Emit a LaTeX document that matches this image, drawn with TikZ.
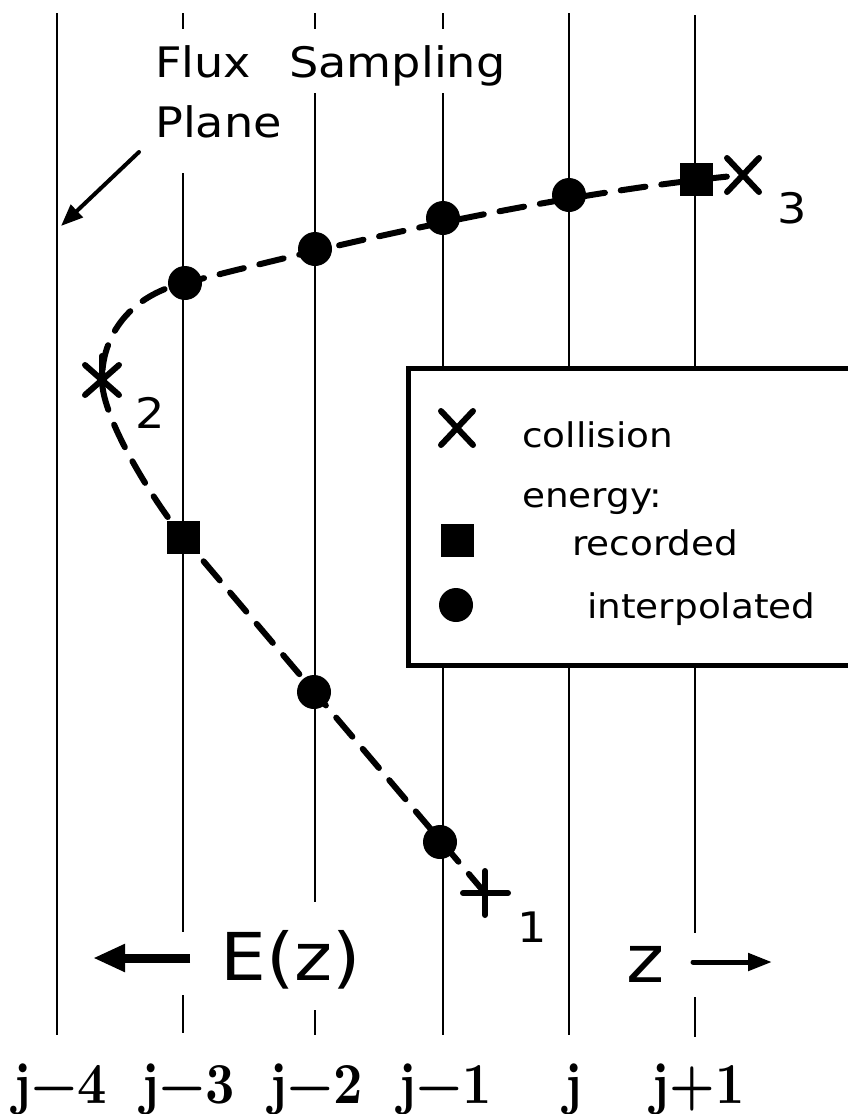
\documentclass[tikz,border=0pt]{standalone}
\usepackage{fontspec}
\newfontfamily\plotfont[FakeStretch=1.1]{DejaVu Sans}
\newfontfamily\labfont[FakeStretch=0.88, Extension=.otf, UprightFont=*-regular, BoldFont=*-bold]{lmroman10}
\usetikzlibrary{arrows.meta}
\begin{document}
\begin{tikzpicture}[x=1pt,y=-1pt,
  plane/.style={line width=1.8pt},
  traj/.style={line width=6pt, dash pattern=on 25pt off 16pt, line cap=round},
  dot/.style={circle, fill=black, inner sep=0pt, minimum size=34pt},
  sq/.style={rectangle, fill=black, inner sep=0pt, minimum size=33pt},
  cross/.style={line width=6pt, line cap=round},
  legtxt/.style={font=\plotfont\fontsize{34}{40}\selectfont, inner sep=0pt, anchor=base west},
  bigtxt/.style={font=\plotfont\fontsize{42}{50}\selectfont, inner sep=0pt},
  numtxt/.style={font=\plotfont\fontsize{42}{50}\selectfont, inner sep=0pt, anchor=center},
  hugetxt/.style={font=\plotfont\fontsize{66}{72}\selectfont, inner sep=0pt, anchor=base west},
  lab/.style={font=\labfont\bfseries\fontsize{58}{64}\selectfont, inner sep=0pt, anchor=base},
]
\useasboundingbox (0,0) rectangle (848,1114);

% flux sampling planes
\draw[plane] (57,13) -- (57,1035);
\draw[plane] (183,13) -- (183,29) (183,173) -- (183,932) (183,995) -- (183,1033);
\draw[plane] (315,13) -- (315,29) (315,93) -- (315,902) (315,1010) -- (315,1035);
\draw[plane] (443,13) -- (443,29) (443,93) -- (443,1035);
\draw[plane] (569,13) -- (569,1035);
\draw[plane] (695,15) -- (695,933) (695,997) -- (695,1037);

% title
\node[bigtxt, anchor=base west] (title1) at (155,77) {Flux\hspace{38pt}Sampling};
\node[bigtxt, anchor=base west] (title2) at (155,137) {Plane};
\coordinate (pa) at (139,152);
\coordinate (pb) at (61,226);
\draw[line width=4pt, line cap=round, -{Triangle[length=22pt,width=17pt]}] (pa) -- (pb);

% legend
\draw[line width=5pt, fill=white] (848,368) -- (408,368) -- (408,665) -- (848,665);
\coordinate (lx) at (457,428);
\draw[cross] (lx) ++(-16,-17) -- ++(32,34) (lx) ++(16,-17) -- ++(-32,34);
\node[legtxt] (lcol) at (522,447) {collision};
\node[legtxt] (lene) at (522,507) {energy:};
\node[sq] (lsq) at (457,540) {};
\node[legtxt] (lrec) at (572,555) {recorded};
\node[dot] (ldot) at (456,605) {};
\node[legtxt] (lint) at (587,618) {interpolated};

% trajectory points
\coordinate (c1) at (485,893);
\node[dot] (e1) at (440,842) {};
\node[dot] (e2) at (314,692) {};
\node[sq] (r1) at (183,537) {};
\coordinate (c2) at (102,380);
\node[dot] (e3) at (185,283) {};
\node[dot] (e4) at (315,249) {};
\node[dot] (e5) at (443,218) {};
\node[dot] (e6) at (569,195) {};
\node[sq] (r2) at (696,179) {};
\coordinate (c3) at (743,175);

% trajectory
\draw[traj] (c1) -- (r1.center)
  .. controls (157,506) and (102,420) .. (c2)
  .. controls (102,328) and (138,293) .. (e3.center)
  .. controls (360,238) and (565,192) .. (c3);

% collision markers
\draw[cross] (c1) ++(-22,0) -- ++(45,0) (c1) ++(0,-22) -- ++(0,44);
\draw[cross] (c2) ++(-17,-15) -- ++(34,30) (c2) ++(17,-15) -- ++(-34,30) (c2) -- ++(0,-24);
\draw[cross] (c3) ++(-16,-17) -- ++(32,34) (c3) ++(16,-17) -- ++(-32,34);

\node[numtxt] (n1) at (532,927) {1};
\node[numtxt] (n2) at (150,413) {2};
\node[numtxt] (n3) at (792,208) {3};

% E(z) and z arrows
\node[hugetxt] (ez) at (220,980) {E(z)};
\coordinate (la) at (190,958);
\coordinate (lb) at (93,958);
\draw[line width=9pt, -{Triangle[length=32pt,width=26pt]}] (la) -- (lb);
\node[hugetxt] (zz) at (626,982) {z};
\coordinate (ra) at (693,962);
\coordinate (rb) at (772,962);
\draw[line width=5pt, line cap=round, -{Triangle[length=24pt,width=17pt]}] (ra) -- (rb);

% plane labels
\node[lab] (j4) at (60,1103) {j−4};
\node[lab] (j3) at (188,1103) {j−3};
\node[lab] (j2) at (316,1103) {j−2};
\node[lab] (j1) at (445,1103) {j−1};
\node[lab] (j0) at (573,1103) {j};
\node[lab] (jp) at (698,1103) {j+1};
\end{tikzpicture}
\end{document}
